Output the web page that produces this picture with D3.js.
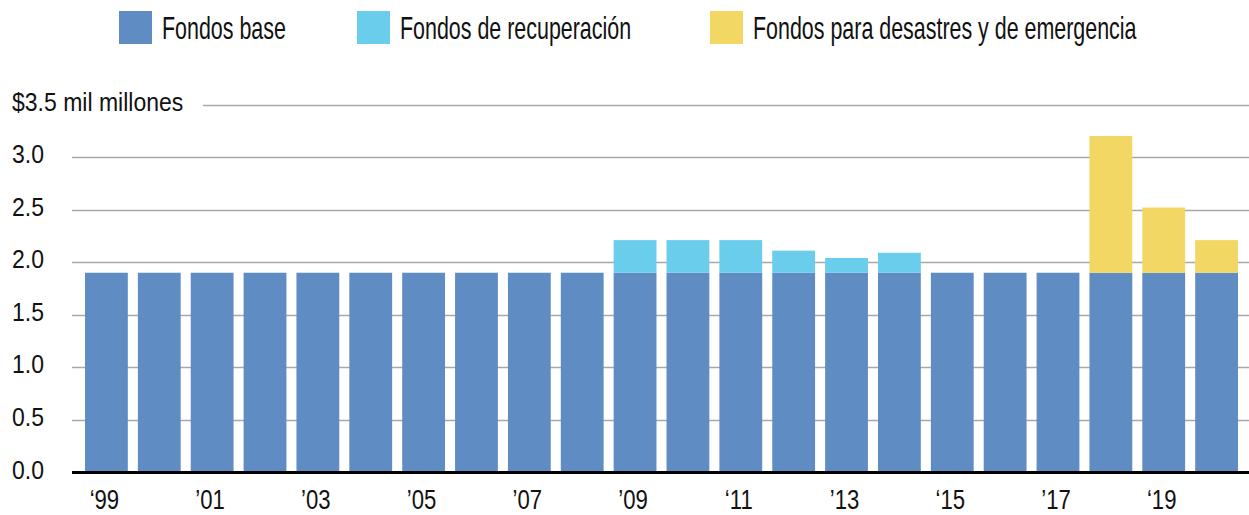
<!DOCTYPE html>
<html>
<head>
<meta charset="utf-8">
<script src="https://cdn.jsdelivr.net/npm/d3@7"></script>
<style>
  body { margin: 0; background: #fff; }
  text { font-family: "Liberation Sans", Arial, sans-serif; fill: #111; }
</style>
</head>
<body>
<svg id="chart"></svg>
<script>
// Data (billions of dollars)
const years = d3.range(1999, 2021);
const baseFunds = [1.9, 1.9, 1.9, 1.9, 1.9, 1.9, 1.9, 1.9, 1.9, 1.9, 1.9,
  1.9, 1.9, 1.9, 1.9, 1.9, 1.9, 1.9, 1.9, 1.9, 1.9, 1.9];
const recoveryFunds = [0, 0, 0, 0, 0, 0, 0, 0, 0, 0, 0.31,
  0.31, 0.31, 0.21, 0.14, 0.19, 0, 0, 0, 0, 0, 0];
const disasterFunds = [0, 0, 0, 0, 0, 0, 0, 0, 0, 0, 0,
  0, 0, 0, 0, 0, 0, 0, 0, 1.30, 0.62, 0.31];
const seriesNames = ["Fondos base", "Fondos de recuperación", "Fondos para desastres y de emergencia"];
const seriesColors = ["#5f8dc3", "#6acdeb", "#f2d764"];
const yTicks = [0, 0.5, 1.0, 1.5, 2.0, 2.5, 3.0, 3.5];
const xTickYears = [1999, 2001, 2003, 2005, 2007, 2009, 2011, 2013, 2015, 2017, 2019];
const xTickLabels = ["‘99", "’01", "’03", "’05", "’07", "’09", "‘11", "’13", "‘15", "’17", "‘19"];

// Set up the SVG container
const svgWidth = 1249;
const svgHeight = 515;
const svg = d3.select("#chart")
  .attr("width", svgWidth)
  .attr("height", svgHeight);

const plotLeft = 72;
const plotRight = 1249;

const x = d3.scaleBand()
  .domain(years)
  .range([85, 1238])
  .paddingInner(0.19)
  .paddingOuter(0);

const y = d3.scaleLinear()
  .domain([0, 3.5])
  .range([472.5, 104.5]);

// Gridlines
svg.append("g")
  .selectAll("line")
  .data(yTicks.filter(d => d > 0))
  .enter()
  .append("line")
  .attr("x1", d => d === 3.5 ? 203 : plotLeft)
  .attr("x2", plotRight)
  .attr("y1", d => Math.round(y(d)) + 0.5)
  .attr("y2", d => Math.round(y(d)) + 0.5)
  .attr("stroke", "#a8a8a8")
  .attr("stroke-width", 1.5);

// Y labels (condensed with a horizontal scale)
svg.append("g")
  .selectAll("text")
  .data(yTicks)
  .enter()
  .append("text")
  .attr("transform", d => `translate(12, ${y(d) + 6}) scale(0.92, 1)`)
  .attr("font-size", 25)
  .text(d => d === 3.5 ? "$3.5 mil millones" : d.toFixed(1));

// Stacked bars
const table = years.map((yr, i) => ({
  year: yr,
  base: baseFunds[i],
  recovery: recoveryFunds[i],
  disaster: disasterFunds[i]
}));
const stack = d3.stack().keys(["base", "recovery", "disaster"]);
const layers = stack(table);

svg.append("g")
  .selectAll("g")
  .data(layers)
  .enter()
  .append("g")
  .attr("fill", (d, i) => seriesColors[i])
  .selectAll("rect")
  .data(d => d.filter(p => p[1] - p[0] > 0))
  .enter()
  .append("rect")
  .attr("x", d => x(d.data.year))
  .attr("width", x.bandwidth())
  .attr("y", d => y(d[1]))
  .attr("height", d => y(d[0]) - y(d[1]));

// Baseline
svg.append("line")
  .attr("x1", plotLeft)
  .attr("x2", plotRight)
  .attr("y1", y(0))
  .attr("y2", y(0))
  .attr("stroke", "#000")
  .attr("stroke-width", 3);

// X labels
const xAxis = d3.axisBottom(x)
  .tickValues(xTickYears)
  .tickSize(0)
  .tickFormat((d, i) => xTickLabels[i]);

const xAxisG = svg.append("g")
  .attr("transform", `translate(0, ${y(0)})`)
  .call(xAxis);
xAxisG.select(".domain").remove();
xAxisG.selectAll("text")
  .attr("y", null)
  .attr("dy", null)
  .attr("transform", "translate(-2, 36) scale(0.82, 1)")
  .attr("font-size", 27)
  .attr("font-family", null)
  .attr("fill", "#111");

// Legend
const legendX = [119, 357, 710];
const legend = svg.append("g")
  .selectAll("g")
  .data(seriesNames)
  .enter()
  .append("g")
  .attr("transform", (d, i) => `translate(${legendX[i]}, 11)`);

legend.append("rect")
  .attr("width", 33)
  .attr("height", 33)
  .attr("fill", (d, i) => seriesColors[i]);

legend.append("text")
  .attr("transform", "translate(43, 28) scale(0.67, 1)")
  .attr("font-size", 32)
  .text(d => d);
</script>
</body>
</html>
